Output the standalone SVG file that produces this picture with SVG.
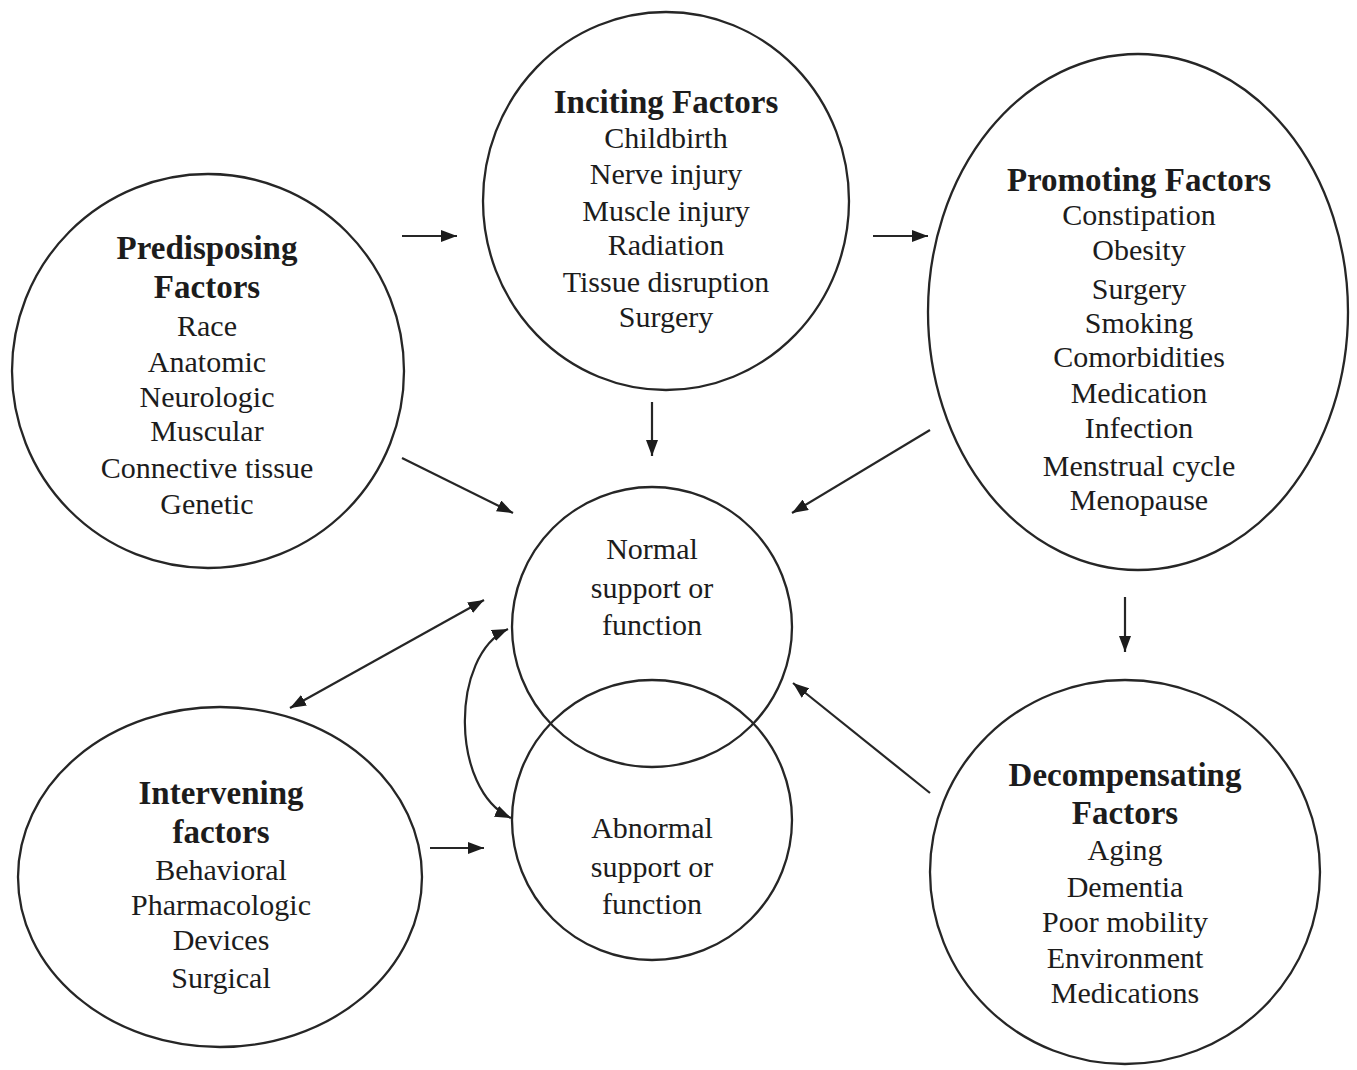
<svg xmlns="http://www.w3.org/2000/svg" width="1357" height="1070" viewBox="0 0 1357 1070">
<style>
.node{fill:none;stroke:#262626;stroke-width:2.3}
.t{font-family:"Liberation Serif","Times New Roman",serif;font-size:30px;fill:#1c1c1c;text-anchor:middle}
.b{font-weight:bold;font-size:33px}
.c{fill:none;stroke:#262626;stroke-width:2.2}
</style>
<defs>
<marker id="ah" viewBox="0 0 16 12" refX="16" refY="6" markerWidth="16" markerHeight="12" markerUnits="userSpaceOnUse" orient="auto-start-reverse">
<path d="M0,0 L16,6 L0,12 z" fill="#1c1c1c"/>
</marker>
</defs>
<rect width="1357" height="1070" fill="#ffffff"/>
<g id="predisposing">
<ellipse class="node" cx="208" cy="371" rx="196" ry="197"/>
<text class="t b" x="207" y="259">Predisposing</text>
<text class="t b" x="207" y="298">Factors</text>
<text class="t" x="207" y="336">Race</text>
<text class="t" x="207" y="372">Anatomic</text>
<text class="t" x="207" y="407">Neurologic</text>
<text class="t" x="207" y="441">Muscular</text>
<text class="t" x="207" y="478">Connective tissue</text>
<text class="t" x="207" y="514">Genetic</text>
</g>
<g id="inciting">
<ellipse class="node" cx="666" cy="201" rx="183" ry="189"/>
<text class="t b" x="666" y="113">Inciting Factors</text>
<text class="t" x="666" y="148">Childbirth</text>
<text class="t" x="666" y="184">Nerve injury</text>
<text class="t" x="666" y="221">Muscle injury</text>
<text class="t" x="666" y="255">Radiation</text>
<text class="t" x="666" y="292">Tissue disruption</text>
<text class="t" x="666" y="327">Surgery</text>
</g>
<g id="promoting">
<ellipse class="node" cx="1138" cy="312" rx="210" ry="258"/>
<text class="t b" x="1139" y="191">Promoting Factors</text>
<text class="t" x="1139" y="225">Constipation</text>
<text class="t" x="1139" y="260">Obesity</text>
<text class="t" x="1139" y="299">Surgery</text>
<text class="t" x="1139" y="333">Smoking</text>
<text class="t" x="1139" y="367">Comorbidities</text>
<text class="t" x="1139" y="403">Medication</text>
<text class="t" x="1139" y="438">Infection</text>
<text class="t" x="1139" y="476">Menstrual cycle</text>
<text class="t" x="1139" y="510">Menopause</text>
</g>
<g id="normal">
<circle class="node" cx="652" cy="627" r="140"/>
<text class="t" x="652" y="559">Normal</text>
<text class="t" x="652" y="598">support or</text>
<text class="t" x="652" y="635">function</text>
</g>
<g id="abnormal">
<circle class="node" cx="652" cy="820" r="140"/>
<text class="t" x="652" y="838">Abnormal</text>
<text class="t" x="652" y="877">support or</text>
<text class="t" x="652" y="914">function</text>
</g>
<g id="intervening">
<ellipse class="node" cx="220" cy="877" rx="202" ry="170"/>
<text class="t b" x="221" y="804">Intervening</text>
<text class="t b" x="221" y="843">factors</text>
<text class="t" x="221" y="880">Behavioral</text>
<text class="t" x="221" y="915">Pharmacologic</text>
<text class="t" x="221" y="950">Devices</text>
<text class="t" x="221" y="988">Surgical</text>
</g>
<g id="decompensating">
<ellipse class="node" cx="1125" cy="872" rx="195" ry="192"/>
<text class="t b" x="1125" y="786">Decompensating</text>
<text class="t b" x="1125" y="824">Factors</text>
<text class="t" x="1125" y="860">Aging</text>
<text class="t" x="1125" y="897">Dementia</text>
<text class="t" x="1125" y="932">Poor mobility</text>
<text class="t" x="1125" y="968">Environment</text>
<text class="t" x="1125" y="1003">Medications</text>
</g>
<g id="connectors">
<line class="c" x1="402" y1="236" x2="457" y2="236" marker-end="url(#ah)"/>
<line class="c" x1="873" y1="236" x2="928" y2="236" marker-end="url(#ah)"/>
<line class="c" x1="652" y1="402" x2="652" y2="456" marker-end="url(#ah)"/>
<line class="c" x1="402" y1="458" x2="513" y2="513" marker-end="url(#ah)"/>
<line class="c" x1="930" y1="430" x2="792" y2="513" marker-end="url(#ah)"/>
<line class="c" x1="1125" y1="597" x2="1125" y2="652" marker-end="url(#ah)"/>
<line class="c" x1="930" y1="793" x2="793" y2="683" marker-end="url(#ah)"/>
<line class="c" x1="290" y1="708" x2="484" y2="600" marker-start="url(#ah)" marker-end="url(#ah)"/>
<line class="c" x1="430" y1="848" x2="484" y2="848" marker-end="url(#ah)"/>
<path class="c" d="M508,629 C450,655 450,790 511,818" marker-start="url(#ah)" marker-end="url(#ah)"/>
</g>
</svg>
